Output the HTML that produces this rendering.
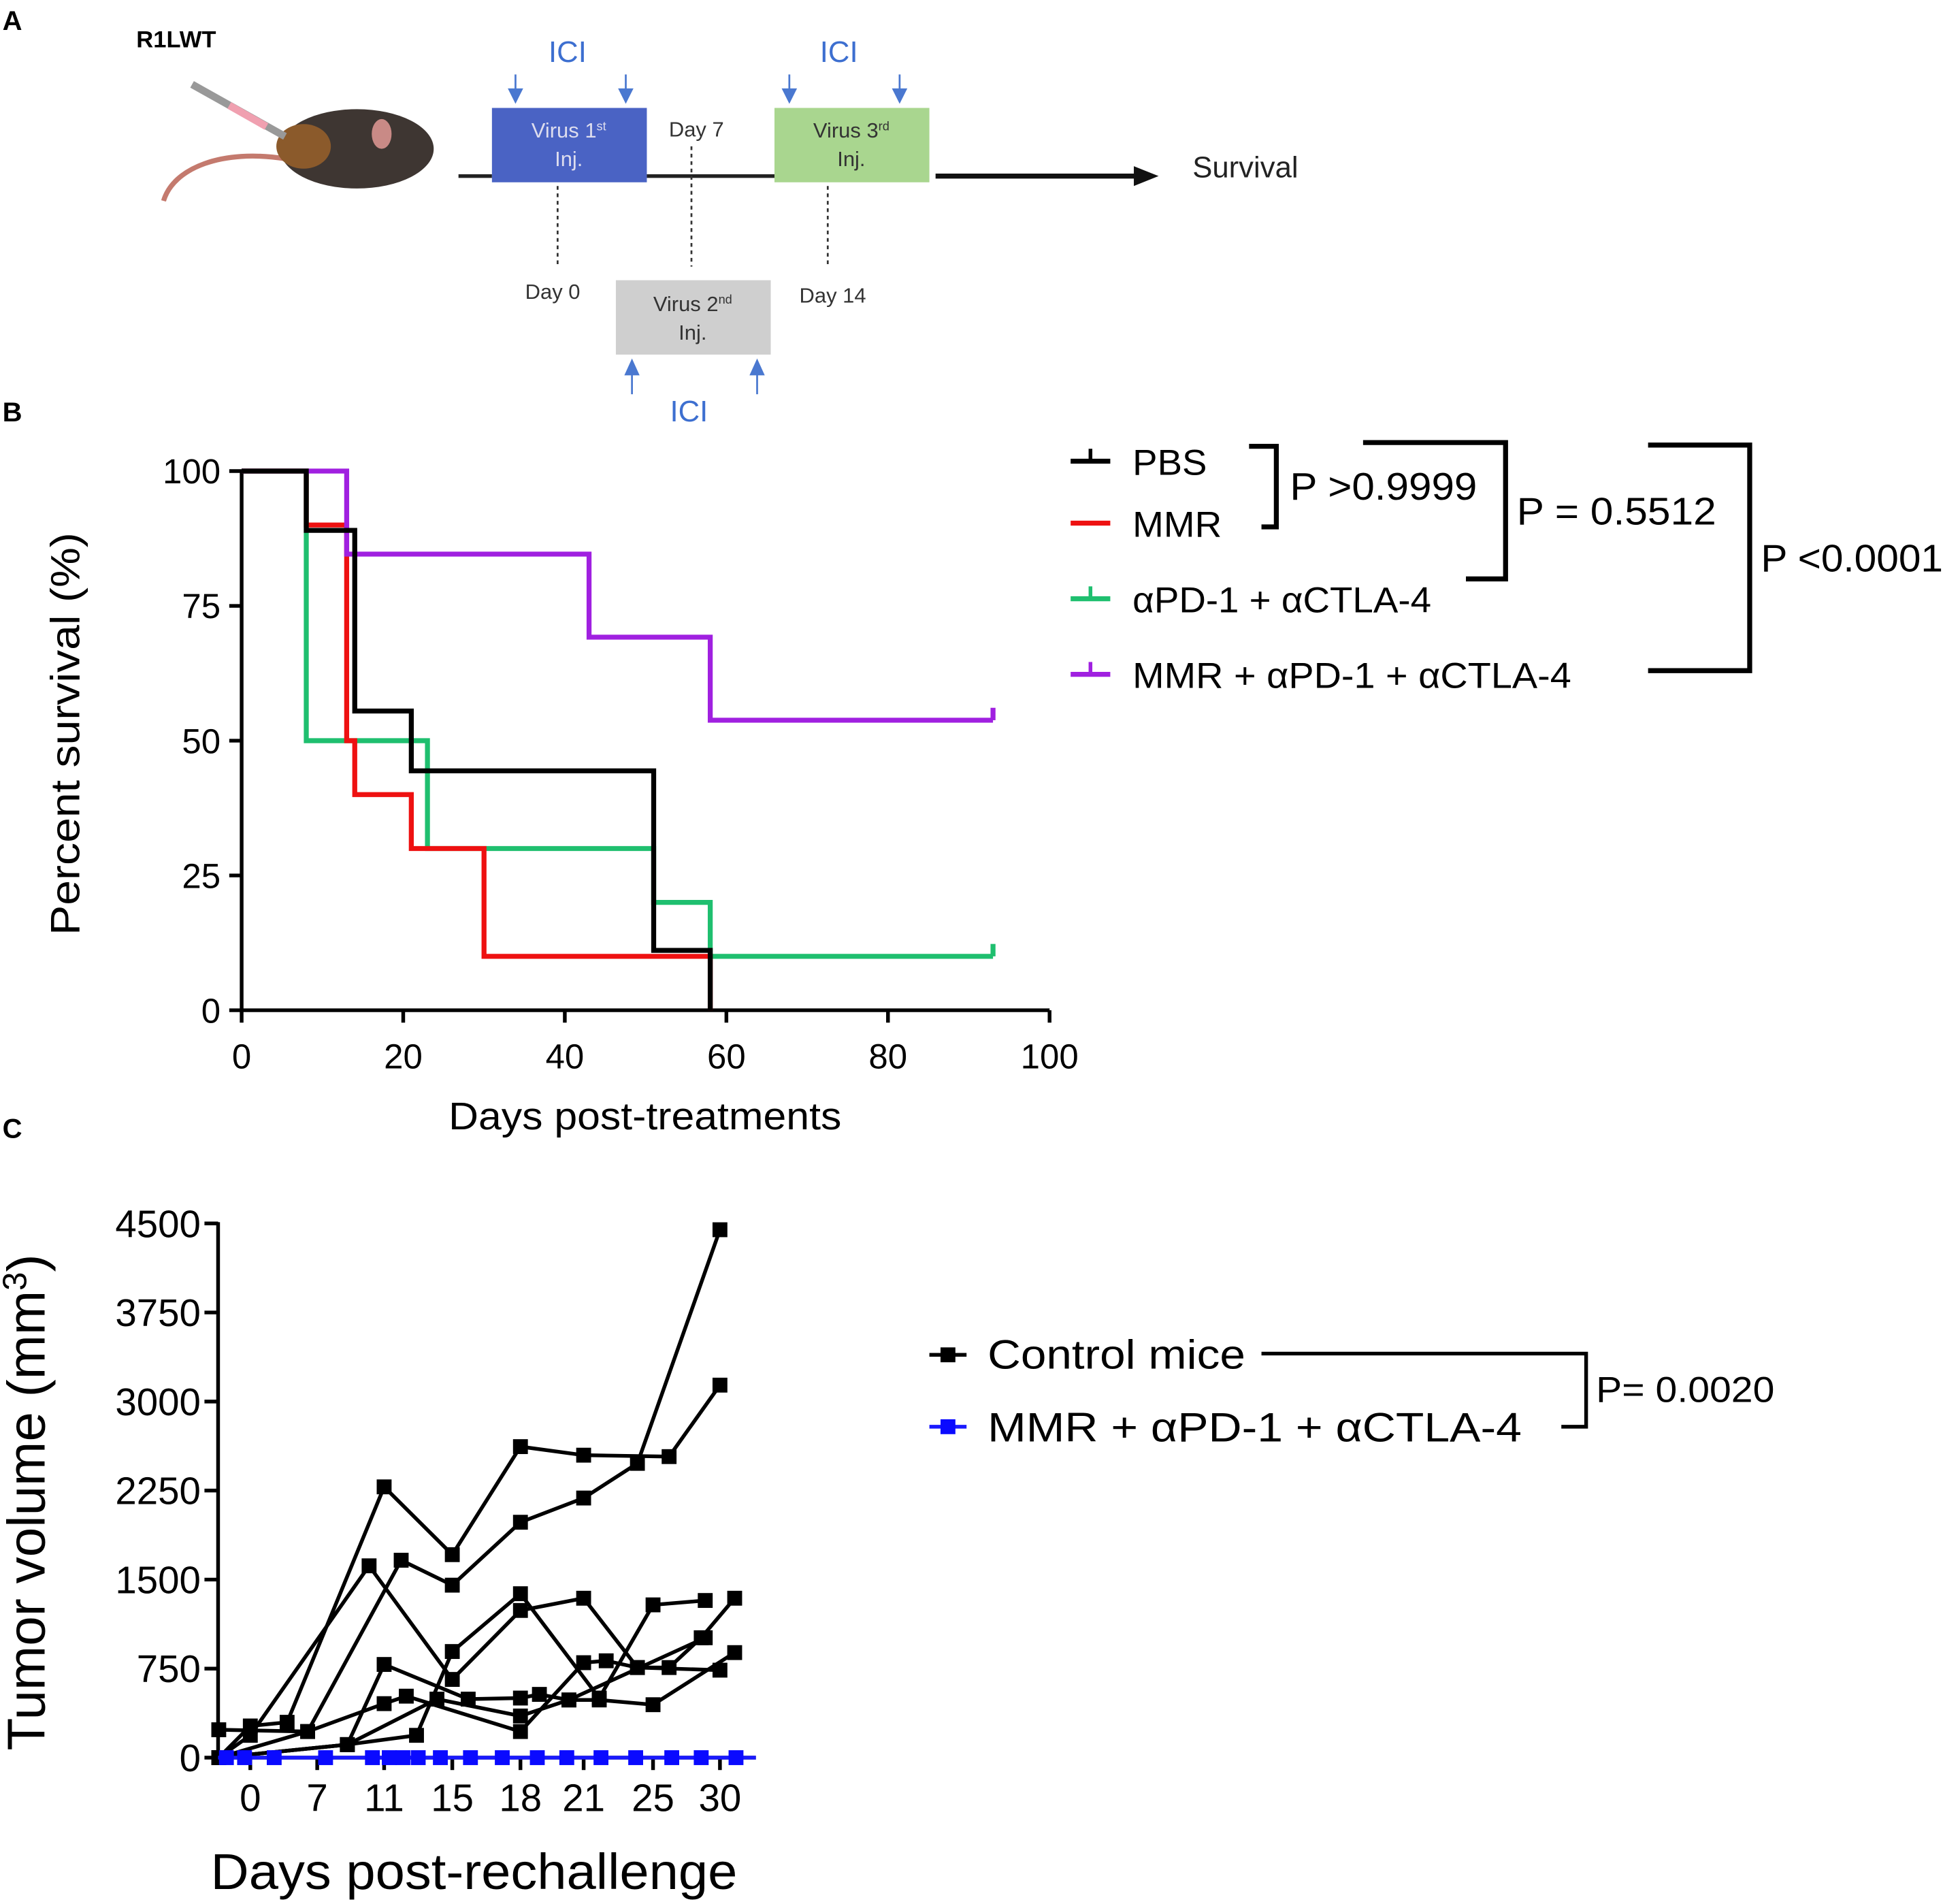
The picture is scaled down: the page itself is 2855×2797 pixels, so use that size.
<!DOCTYPE html>
<html><head><meta charset="utf-8"><style>
html,body{margin:0;padding:0;background:#fff;}
svg{display:block;font-family:"Liberation Sans",sans-serif;}
</style></head><body>
<svg id="fig" width="2855" height="2797" viewBox="0 0 1568 1536" xmlns="http://www.w3.org/2000/svg">
<rect x="0" y="0" width="1568" height="1536" fill="#fff"/>
<!-- Panel A -->
<g>
<text x="2" y="24" font-size="22" font-weight="bold">A</text>
<text x="110" y="38" font-size="19" font-weight="bold">R1LWT</text>
<g>
<path d="M230,128 C180,120 140,135 132,162" stroke="#c47a6e" stroke-width="4" fill="none"/>
<ellipse cx="288" cy="120" rx="62" ry="32" fill="#3e3632"/>
<ellipse cx="245" cy="118" rx="22" ry="18" fill="#8b5a2b"/>
<ellipse cx="308" cy="108" rx="8" ry="12" fill="#c98a86"/>
<line x1="155" y1="68" x2="230" y2="110" stroke="#999" stroke-width="6"/>
<line x1="185" y1="85" x2="215" y2="102" stroke="#f0a0b0" stroke-width="6"/>
</g>
<line x1="370" y1="142" x2="397" y2="142" stroke="#222" stroke-width="3"/>
<line x1="522" y1="142" x2="625" y2="142" stroke="#222" stroke-width="3"/>
<line x1="755" y1="142" x2="925" y2="142" stroke="#111" stroke-width="4"/>
<polygon points="935,142 915,134 915,150" fill="#111"/>
<rect x="397" y="87" width="125" height="60" fill="#4a63c4"/>
<text x="459" y="111" font-size="17" fill="#dde" text-anchor="middle">Virus 1<tspan font-size="10" dy="-6">st</tspan></text>
<text x="459" y="134" font-size="17" fill="#dde" text-anchor="middle">Inj.</text>
<rect x="625" y="87" width="125" height="60" fill="#a9d68f"/>
<text x="687" y="111" font-size="17" fill="#333" text-anchor="middle">Virus 3<tspan font-size="10" dy="-6">rd</tspan></text>
<text x="687" y="134" font-size="17" fill="#333" text-anchor="middle">Inj.</text>
<rect x="497" y="226" width="125" height="60" fill="#cfcfcf"/>
<text x="559" y="251" font-size="17" fill="#333" text-anchor="middle">Virus 2<tspan font-size="10" dy="-6">nd</tspan></text>
<text x="559" y="274" font-size="17" fill="#333" text-anchor="middle">Inj.</text>
<text x="562" y="110" font-size="17" fill="#333" text-anchor="middle">Day 7</text>
<text x="446" y="241" font-size="17" fill="#333" text-anchor="middle">Day 0</text>
<text x="672" y="244" font-size="17" fill="#333" text-anchor="middle">Day 14</text>
<text x="1005" y="143" font-size="24" fill="#222" text-anchor="middle">Survival</text>
<g stroke="#333" stroke-width="1.5" stroke-dasharray="3,3">
<line x1="450" y1="150" x2="450" y2="215"/><line x1="558" y1="118" x2="558" y2="215"/><line x1="668" y1="150" x2="668" y2="215"/></g>
<g fill="#4a78d0" stroke="#4a78d0" stroke-width="1.5">
<line x1="416" y1="60" x2="416" y2="76"/><polygon points="411,72 421,72 416,82"/>
<line x1="505" y1="60" x2="505" y2="76"/><polygon points="500,72 510,72 505,82"/>
<line x1="637" y1="60" x2="637" y2="76"/><polygon points="632,72 642,72 637,82"/>
<line x1="726" y1="60" x2="726" y2="76"/><polygon points="721,72 731,72 726,82"/>
<line x1="510" y1="300" x2="510" y2="318"/><polygon points="505,302 515,302 510,291"/>
<line x1="611" y1="300" x2="611" y2="318"/><polygon points="606,302 616,302 611,291"/>
</g>
<g fill="#3d6fd0" font-size="24" text-anchor="middle">
<text x="458" y="50">ICI</text><text x="677" y="50">ICI</text><text x="556" y="340">ICI</text></g>
</g>
<!-- Panel B -->
<text x="2" y="340" font-size="22" font-weight="bold">B</text>
<g id="pb"></g>
<!-- Panel C -->
<text x="2" y="918" font-size="22" font-weight="bold">C</text>
<g id="pc"></g>
</svg>
<script>
const NS="http://www.w3.org/2000/svg";
// Panel B data
const survTicksX=[0,20,40,60,80,100];
const survTicksY=[0,25,50,75,100];
const pbsSteps=[[0,100],[8,89],[14,55.5],[21,44.4],[51,11.1],[58,0]];
const mmrSteps=[[0,100],[8,90],[13,50],[14,40],[21,30],[30,10],[58,0]];
const icSteps=[[0,100],[8,50],[23,30],[51,20],[58,10]];
const comboSteps=[[0,100],[13,84.6],[43,69.2],[58,53.8]];
const icEnd=93, comboEnd=93, pbsEnd=58, mmrEnd=58;
// Panel C data
const volTicksX=[0,7,11,15,18,21,25,30];
const volTicksY=[0,750,1500,2250,3000,3750,4500];
const ctrl1=[[-3.3,0],[0,267],[3.85,298],[11,2281],[15,1710],[18,2620],[21,2548],[26.2,2536],[30,3138]];
const ctrl2=[[-3.3,0],[6,220],[12,1663],[15,1453],[18,1983],[21,2187],[24.1,2479],[30,4447]];
const ctrl3=[[-3.3,0],[0,188],[10.1,1616],[15,659],[18,1240],[21,1343],[24.1,759],[26.2,759],[28.6,1010],[31.1,1343]];
const ctrl4=[[-3.3,235],[6,220],[11,455],[12.3,518],[18,220],[21,800],[22.3,816],[24.1,759],[30,737]];
const ctrl5=[[-3.3,0],[8.8,110],[11,785],[15.7,493],[18,502],[18.9,533],[20.3,486],[21.9,486],[25,446],[31.1,885]];
const ctrl6=[[-3.3,0],[8.8,110],[14.1,493],[18,351],[20.3,486],[28.9,1010]];
const ctrl7=[[-3.3,0],[8.8,110],[12.9,188],[15,894],[18,1381],[21.9,502],[25,1287],[28.9,1324]];
const comboDays=[-2.5,-0.6,2.5,7.5,10.3,11.3,12.1,13,14.3,15.8,17.2,18.8,20.2,22,24,26.4,28.6,31.2];
const comboVals=[0,0,0,0,0,0,0,0,0,0,0,0,0,0,0,0,0,0];

function el(tag,attrs,parent,txt){const e=document.createElementNS(NS,tag);for(const k in attrs)e.setAttribute(k,attrs[k]);if(txt!==undefined)e.textContent=txt;parent.appendChild(e);return e;}
// Panel B axes
const bx=v=>195+v*(847-195)/100, by=v=>815-v*(815-380)/100;
const pb=document.getElementById('pb');
const axB=el('path',{d:`M${bx(0)},${by(100)}V${by(0)}H${bx(100)}`,fill:'none',stroke:'#000','stroke-width':3},pb);


survTicksX.forEach(t=>{el('line',{x1:bx(t),x2:bx(t),y1:by(0),y2:by(0)+10,stroke:'#000','stroke-width':3},pb);
 const tx=el('text',{x:bx(t),y:862,'font-size':28,'text-anchor':'middle'},pb,String(t));
 
 });
survTicksY.forEach(t=>{el('line',{x1:bx(0)-10,x2:bx(0),y1:by(t),y2:by(t),stroke:'#000','stroke-width':3},pb);
 const tx=el('text',{x:178,y:by(t)+10,'font-size':28,'text-anchor':'end'},pb,String(t));
 
 });
const yt=el('text',{x:0,y:0,'font-size':33,'text-anchor':'middle',textLength:325,lengthAdjust:'spacingAndGlyphs',transform:`translate(64,592) rotate(-90)`},pb,'Percent survival (%)');


const xt=el('text',{x:362,y:911,'font-size':31,textLength:317,lengthAdjust:'spacingAndGlyphs'},pb,'Days post-treatments');


function stepPath(steps,end){let d=`M${bx(steps[0][0])},${by(steps[0][1])}`;for(let i=1;i<steps.length;i++){d+=`H${bx(steps[i][0])}V${by(steps[i][1])}`;}d+=`H${bx(end)}`;return d;}
[[icSteps,icEnd,'#1fbf6f','curve-apd1-actla4'],[mmrSteps,mmrEnd,'#ee1111','curve-mmr'],[comboSteps,comboEnd,'#a020e0','curve-mmr-combo'],[pbsSteps,pbsEnd,'#000','curve-pbs']].forEach(([s,e,c,n])=>{
 const p=el('path',{d:stepPath(s,e),fill:'none',stroke:c,'stroke-width':4},pb);
 
 
});
el('line',{x1:bx(icEnd),x2:bx(icEnd),y1:by(icSteps[icSteps.length-1][1]),y2:by(icSteps[icSteps.length-1][1])-10,stroke:'#1fbf6f','stroke-width':4},pb);
el('line',{x1:bx(comboEnd),x2:bx(comboEnd),y1:by(comboSteps[comboSteps.length-1][1]),y2:by(comboSteps[comboSteps.length-1][1])-10,stroke:'#a020e0','stroke-width':4},pb);
// legend B
const legB=[['PBS','#000',378,60],['MMR','#ee1111',428,72],['αPD-1 + αCTLA-4','#1fbf6f',489,241],['MMR  + αPD-1 + αCTLA-4','#a020e0',550,354]];
legB.forEach(([t,c,y,w],i)=>{const g=el('g',{},pb);
 
 
 el('line',{x1:864,x2:896,y1:y-6,y2:y-6,stroke:c,'stroke-width':4},g);
 if(i!=1)el('line',{x1:880,x2:880,y1:y-6,y2:y-16,stroke:c,'stroke-width':3},g);
 el('text',{x:914,y:y+5,'font-size':29,textLength:w,lengthAdjust:'spacingAndGlyphs'},g,t);});
const br=el('path',{d:'M1008,360H1030V425H1018 M1100,357H1215V467H1183 M1330,359H1412V541H1330',fill:'none',stroke:'#000','stroke-width':4},pb);


[['P >0.9999',1041,403,151],['P = 0.5512',1224,423,161],['P <0.0001',1421,461,147]].forEach(([t,x,y,w])=>{const tx=el('text',{x:x,y:y,'font-size':31,textLength:w,lengthAdjust:'spacingAndGlyphs'},pb,t);
 
 });
// Panel C
const tickPos=[202,256,310,365,420,471,527,581];
function cx(d){let i=0;if(d<=volTicksX[0]){return tickPos[0]+(d-volTicksX[0])*(tickPos[1]-tickPos[0])/(volTicksX[1]-volTicksX[0]);}
 for(i=0;i<volTicksX.length-2;i++){if(d<=volTicksX[i+1])break;}
 return tickPos[i]+(d-volTicksX[i])*(tickPos[i+1]-tickPos[i])/(volTicksX[i+1]-volTicksX[i]);}
const cy=v=>1418-v*(1418-987)/4500;
const pc=document.getElementById('pc');
volTicksY.forEach(t=>{el('line',{x1:165,x2:176,y1:cy(t),y2:cy(t),stroke:'#000','stroke-width':3},pc);
 const tx=el('text',{x:162,y:cy(t)+11,'font-size':31,'text-anchor':'end'},pc,String(t));
 
 });
volTicksX.forEach((t)=>{el('line',{x1:cx(t),x2:cx(t),y1:1418,y2:1428,stroke:'#000','stroke-width':3},pc);
 const tx=el('text',{x:cx(t),y:1461,'font-size':31,'text-anchor':'middle'},pc,String(t));
 
 });
const axC=el('path',{d:`M176,986V1418H610`,fill:'none',stroke:'#000','stroke-width':3},pc);


const yt2=el('text',{x:0,y:0,'font-size':43,'text-anchor':'middle',transform:'translate(36,1212) rotate(-90)'},pc);


yt2.innerHTML='Tumor volume (mm<tspan font-size="27" dy="-15">3</tspan><tspan dy="15">)</tspan>';
const xt2=el('text',{x:170,y:1524,'font-size':41,textLength:425,lengthAdjust:'spacingAndGlyphs'},pc,'Days post-rechallenge');


[ctrl1,ctrl2,ctrl3,ctrl4,ctrl5,ctrl6,ctrl7].forEach((s,k)=>{const g=el('g',{},pc);
 
 
 el('polyline',{points:s.map(p=>cx(p[0])+','+cy(p[1])).join(' '),fill:'none',stroke:'#000','stroke-width':3},g);
 s.forEach(p=>{const m=el('rect',{x:cx(p[0])-6,y:cy(p[1])-6,width:12,height:12,fill:'#000'},g);
  
  });});
const gb=el('g',{},pc);


el('line',{x1:176,x2:610,y1:cy(0),y2:cy(0),stroke:'#1a1aff','stroke-width':3},gb);
comboDays.forEach((d,i)=>{const m=el('rect',{x:cx(d)-6,y:cy(comboVals[i])-6,width:12,height:12,fill:'#0a0aff'},gb);
 
 });
// legend C
const l1=el('g',{},pc);


el('line',{x1:750,x2:780,y1:1093,y2:1093,stroke:'#000','stroke-width':3},l1);
el('rect',{x:759,y:1087,width:12,height:12,fill:'#000'},l1);
el('text',{x:797,y:1104,'font-size':33,textLength:208,lengthAdjust:'spacingAndGlyphs'},l1,'Control mice');
const l2=el('g',{},pc);


el('line',{x1:750,x2:780,y1:1151,y2:1151,stroke:'#1a1aff','stroke-width':3},l2);
el('rect',{x:759,y:1145,width:12,height:12,fill:'#0a0aff'},l2);
el('text',{x:797,y:1163,'font-size':33,textLength:431,lengthAdjust:'spacingAndGlyphs'},l2,'MMR + αPD-1 + αCTLA-4');
const br2=el('path',{d:'M1018,1092H1280V1151H1260',fill:'none',stroke:'#000','stroke-width':3},pc);


const pv=el('text',{x:1288,y:1131,'font-size':29,textLength:144,lengthAdjust:'spacingAndGlyphs'},pc,'P= 0.0020');


</script>
</body></html>
